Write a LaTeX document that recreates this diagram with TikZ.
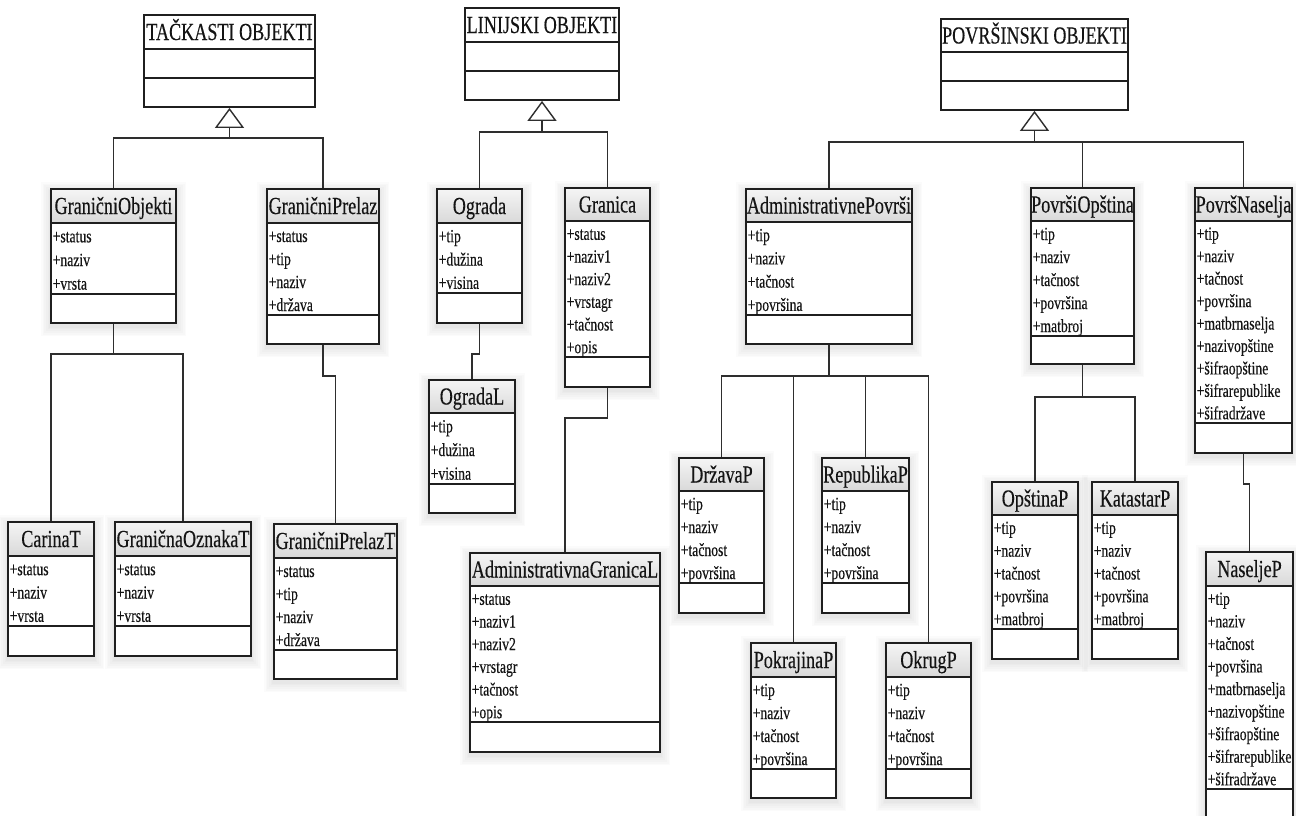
\documentclass[tikz,border=0pt]{standalone}
\usepackage{fontspec}
\setmainfont{Liberation Serif}[FakeStretch=0.74, FakeBold=0.3]
\usetikzlibrary{arrows.meta,fit}

\tikzset{
  boxline/.style={draw=black!88, line width=1.8pt},
  conn/.style={draw=black!82, line width=1.4pt},
  inherit/.style={conn, -{Triangle[open, length=20pt, width=29pt, line width=1.4pt]}},
  headtext/.style={inner sep=0pt, text=black!92, font=\fontsize{24.5}{29}\selectfont},
  attrtext/.style={inner sep=0pt, text=black!92, font=\fontsize{18.5}{22}\selectfont},
  headfill/.style={top color=black!4, bottom color=black!15},
}

% class box: name, left, top, right, header bottom, attributes bottom, bottom, title, attributes
\newcommand{\umlclass}[9]{%
  \foreach \k in {1,...,6}
    \fill[black, opacity=0.016] (#2-\k*1.7, #3-\k*1.7+3) rectangle (#4+\k*1.7, #7+\k*1.7+3);
  \fill[white] (#2,#3) rectangle (#4,#7);
  \shade[headfill] (#2,#3) rectangle (#4,#5);
  \node[fit={(#2,#3) (#4,#7)}, inner sep=0pt, boxline] (#1) {};
  \draw[boxline] (#2,#5) -- (#4,#5) (#2,#6) -- (#4,#6);
  \node[headtext, anchor=base] (#1-title) at ({(#2+#4)/2}, {(#3+#5)/2+8}) {#8};
  \foreach \a [count=\n] in {#9} {\xdef\umlcount{\n}}
  \pgfmathsetmacro\umlstep{(#6-#5)/\umlcount}
  \foreach \a [count=\i from 0] in {#9}
    \node[attrtext, anchor=base west] (#1-a\i) at (#2+1.5, {#5+(\i+0.5)*\umlstep+7.5}) {\a};
}

% abstract parent box: name, left, top, right, divider 1, divider 2, bottom, title
\newcommand{\parentclass}[8]{%
  \fill[white] (#2,#3) rectangle (#4,#7);
  \node[fit={(#2,#3) (#4,#7)}, inner sep=0pt, boxline] (#1) {};
  \draw[boxline] (#2,#5) -- (#4,#5) (#2,#6) -- (#4,#6);
  \node[headtext, anchor=base] (#1-title) at ({(#2+#4)/2}, {(#3+#5)/2+8}) {#8};
}

\begin{document}
\begin{tikzpicture}[x=1pt, y=-1pt]
\useasboundingbox (0,0) rectangle (1296,815);
\clip (0,0) rectangle (1296,815);
\fill[white] (0,0) rectangle (1296,815);

% ---------- point objects ----------
\parentclass{tack}{144}{15}{315}{49}{78}{107}{TAČKASTI OBJEKTI}
\umlclass{go}{51}{189}{176}{223}{294}{323}{GraničniObjekti}{+status,+naziv,+vrsta}
\umlclass{gp}{267}{189}{379}{223}{315}{344}{GraničniPrelaz}{+status,+tip,+naziv,+država}
\umlclass{ct}{8}{522}{94}{556}{626}{656}{CarinaT}{+status,+naziv,+vrsta}
\umlclass{got}{115}{522}{251}{556}{626}{656}{GraničnaOznakaT}{+status,+naziv,+vrsta}
\umlclass{gpt}{274}{524}{397}{558}{650}{679}{GraničniPrelazT}{+status,+tip,+naziv,+država}

% ---------- line objects ----------
\parentclass{lin}{465}{8}{619}{42}{71}{100}{LINIJSKI OBJEKTI}
\umlclass{og}{437}{189}{522}{223}{293}{323}{Ograda}{+tip,+dužina,+visina}
\umlclass{gr}{565}{188}{650}{221}{357}{387}{Granica}{+status,+naziv1,+naziv2,+vrstagr,+tačnost,+opis}
\umlclass{ogl}{429}{380}{515}{413}{484}{513}{OgradaL}{+tip,+dužina,+visina}
\umlclass{agl}{470}{553}{660}{586}{722}{752}{AdministrativnaGranicaL}{+status,+naziv1,+naziv2,+vrstagr,+tačnost,+opis}

% ---------- area objects ----------
\parentclass{pov}{941}{19}{1128}{52}{81}{110}{POVRŠINSKI OBJEKTI}
\umlclass{ap}{746}{189}{912}{222}{315}{344}{AdministrativnePovrši}{+tip,+naziv,+tačnost,+površina}
\umlclass{po}{1031}{188}{1134}{221}{336}{364}{PovršiOpština}{+tip,+naziv,+tačnost,+površina,+matbroj}
\umlclass{pn}{1195}{188}{1292}{221}{423}{453}{PovršNaselja}{+tip,+naziv,+tačnost,+površina,+matbrnaselja,+nazivopštine,+šifraopštine,+šifrarepublike,+šifradržave}
\umlclass{dp}{679}{458}{764}{491}{583}{613}{DržavaP}{+tip,+naziv,+tačnost,+površina}
\umlclass{rp}{822}{458}{909}{491}{583}{613}{RepublikaP}{+tip,+naziv,+tačnost,+površina}
\umlclass{pkp}{751}{643}{836}{677}{769}{798}{PokrajinaP}{+tip,+naziv,+tačnost,+površina}
\umlclass{okp}{886}{643}{971}{677}{769}{798}{OkrugP}{+tip,+naziv,+tačnost,+površina}
\umlclass{opp}{992}{482}{1078}{515}{629}{659}{OpštinaP}{+tip,+naziv,+tačnost,+površina,+matbroj}
\umlclass{kp}{1092}{482}{1178}{515}{629}{659}{KatastarP}{+tip,+naziv,+tačnost,+površina,+matbroj}
\umlclass{np}{1206}{552}{1293}{586}{789}{822}{NaseljeP}{+tip,+naziv,+tačnost,+površina,+matbrnaselja,+nazivopštine,+šifraopštine,+šifrarepublike,+šifradržave}

% ---------- generalisation connectors ----------
\coordinate (tj) at ([yshift=-30pt]tack.south);
\draw[conn] (go.north) |- (tj) -| (gp.north);
\draw[inherit] (tj) -- (tack.south);

\coordinate (lj) at ([yshift=-31pt]lin.south);
\draw[conn] (og.north) |- (lj) -| (gr.north);
\draw[inherit] (lj) -- (lin.south);

\coordinate (pj) at ([yshift=-31pt]pov.south);
\draw[conn] (ap.north) |- (pj) -| (pn.north);
\draw[conn] (po.north) -- (po.north |- pj);
\draw[inherit] (pj) -- (pov.south);

% ---------- lower level connectors ----------
\draw[conn] (go.south) -- ++(0,30) coordinate (goj);
\draw[conn] (ct.north) |- (goj) -| (got.north);
\draw[conn] (gp.south) -- ++(0,31) -| (gpt.north);

\draw[conn] (og.south) -- ++(0,30) -| (ogl.north);
\draw[conn] (gr.south) -- ++(0,30) -| (agl.north);

\draw[conn] (ap.south) -- ++(0,31) coordinate (apj);
\draw[conn] (dp.north) |- (apj) -| (okp.north);
\draw[conn] (pkp.north) -- (pkp.north |- apj);
\draw[conn] (rp.north) -- (rp.north |- apj);

\draw[conn] (po.south) -- ++(0,32) coordinate (poj);
\draw[conn] (opp.north) |- (poj) -| (kp.north);

\draw[conn] (pn.south) -- ++(0,30) -| (np.north);
\end{tikzpicture}
\end{document}
